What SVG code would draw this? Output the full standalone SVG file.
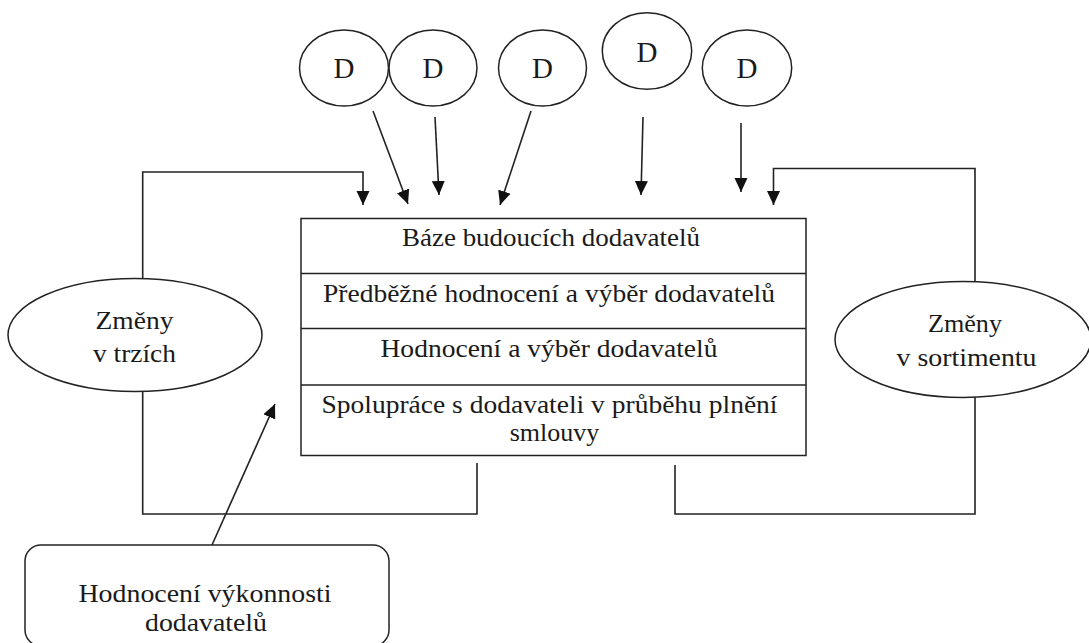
<svg xmlns="http://www.w3.org/2000/svg" width="1089" height="643" viewBox="0 0 1089 643">
  <style>
    .shape { fill: #ffffff; stroke: #222222; stroke-width: 1.5; }
    .conn { fill: none; stroke: #222222; stroke-width: 1.6; }
    .t { font-family: "Liberation Serif", "Times New Roman", serif; font-size: 26px; fill: #1a1a1a; text-anchor: middle; }
    .d { font-family: "Liberation Serif", "Times New Roman", serif; font-size: 29px; fill: #1a1a1a; text-anchor: middle; }
  </style>
  <defs>
    <marker id="ah" markerWidth="14" markerHeight="14" refX="14" refY="7" orient="auto" markerUnits="userSpaceOnUse">
      <path d="M0,0.5 L14,7 L0,13.5 z" fill="#111111"/>
    </marker>
  </defs>
  <rect width="1089" height="643" fill="#ffffff"/>

  <g id="connectors">
    <line class="conn" x1="373" y1="111" x2="408" y2="204" marker-end="url(#ah)"/>
    <line class="conn" x1="435" y1="117" x2="439" y2="195" marker-end="url(#ah)"/>
    <line class="conn" x1="531" y1="111" x2="500" y2="205" marker-end="url(#ah)"/>
    <line class="conn" x1="643" y1="117" x2="641" y2="195" marker-end="url(#ah)"/>
    <line class="conn" x1="741" y1="123" x2="741" y2="192" marker-end="url(#ah)"/>
    <path class="conn" d="M142.7,279 V172 H363 V205" marker-end="url(#ah)"/>
    <path class="conn" d="M975,282 V168.5 H773.5 V205" marker-end="url(#ah)"/>
    <path class="conn" d="M142.7,391 V514 H477 V463"/>
    <path class="conn" d="M675,465 V514 H975 V397"/>
    <line class="conn" x1="212" y1="545" x2="275" y2="404" marker-end="url(#ah)"/>
  </g>

  <g id="d1"><ellipse class="shape" cx="344" cy="68" rx="44.5" ry="38"/><text class="d" x="344" y="78">D</text></g>
  <g id="d2"><ellipse class="shape" cx="433" cy="68" rx="44" ry="38"/><text class="d" x="433" y="78">D</text></g>
  <g id="d3"><ellipse class="shape" cx="542.5" cy="68" rx="44" ry="38"/><text class="d" x="542.5" y="78">D</text></g>
  <g id="d4"><ellipse class="shape" cx="647" cy="51" rx="44.7" ry="38.3"/><text class="d" x="647" y="61.5">D</text></g>
  <g id="d5"><ellipse class="shape" cx="747" cy="68" rx="44.7" ry="38"/><text class="d" x="747" y="78">D</text></g>

  <g id="process">
    <rect class="shape" x="301" y="218.5" width="505" height="237"/>
    <line class="conn" x1="301" y1="273.5" x2="806" y2="273.5"/>
    <line class="conn" x1="301" y1="328.5" x2="806" y2="328.5"/>
    <line class="conn" x1="301" y1="385" x2="806" y2="385"/>
    <text class="t" x="551" y="246" textLength="298" lengthAdjust="spacingAndGlyphs">Báze budoucích dodavatelů</text>
    <text class="t" x="549" y="301.5" textLength="452" lengthAdjust="spacingAndGlyphs">Předběžné hodnocení a výběr dodavatelů</text>
    <text class="t" x="549" y="357" textLength="337" lengthAdjust="spacingAndGlyphs">Hodnocení a výběr dodavatelů</text>
    <text class="t" x="549.5" y="413" textLength="456" lengthAdjust="spacingAndGlyphs">Spolupráce s dodavateli v průběhu plnění</text>
    <text class="t" x="554.5" y="441">smlouvy</text>
  </g>

  <g id="zmeny-trzich">
    <ellipse class="shape" cx="135" cy="335" rx="127" ry="56.5"/>
    <text class="t" x="134.5" y="328.5" textLength="78" lengthAdjust="spacingAndGlyphs">Změny</text>
    <text class="t" x="134.5" y="362" textLength="83" lengthAdjust="spacingAndGlyphs">v trzích</text>
  </g>

  <g id="zmeny-sortiment">
    <ellipse class="shape" cx="963" cy="339.5" rx="128" ry="58"/>
    <text class="t" x="965" y="332" textLength="74" lengthAdjust="spacingAndGlyphs">Změny</text>
    <text class="t" x="966.5" y="365.5" textLength="140" lengthAdjust="spacingAndGlyphs">v sortimentu</text>
  </g>

  <g id="hodnoceni-vykonnosti">
    <rect class="shape" x="25" y="545" width="364" height="101" rx="16" ry="16"/>
    <text class="t" x="205" y="602" textLength="253" lengthAdjust="spacingAndGlyphs">Hodnocení výkonnosti</text>
    <text class="t" x="206" y="630.5" textLength="122" lengthAdjust="spacingAndGlyphs">dodavatelů</text>
  </g>
</svg>
